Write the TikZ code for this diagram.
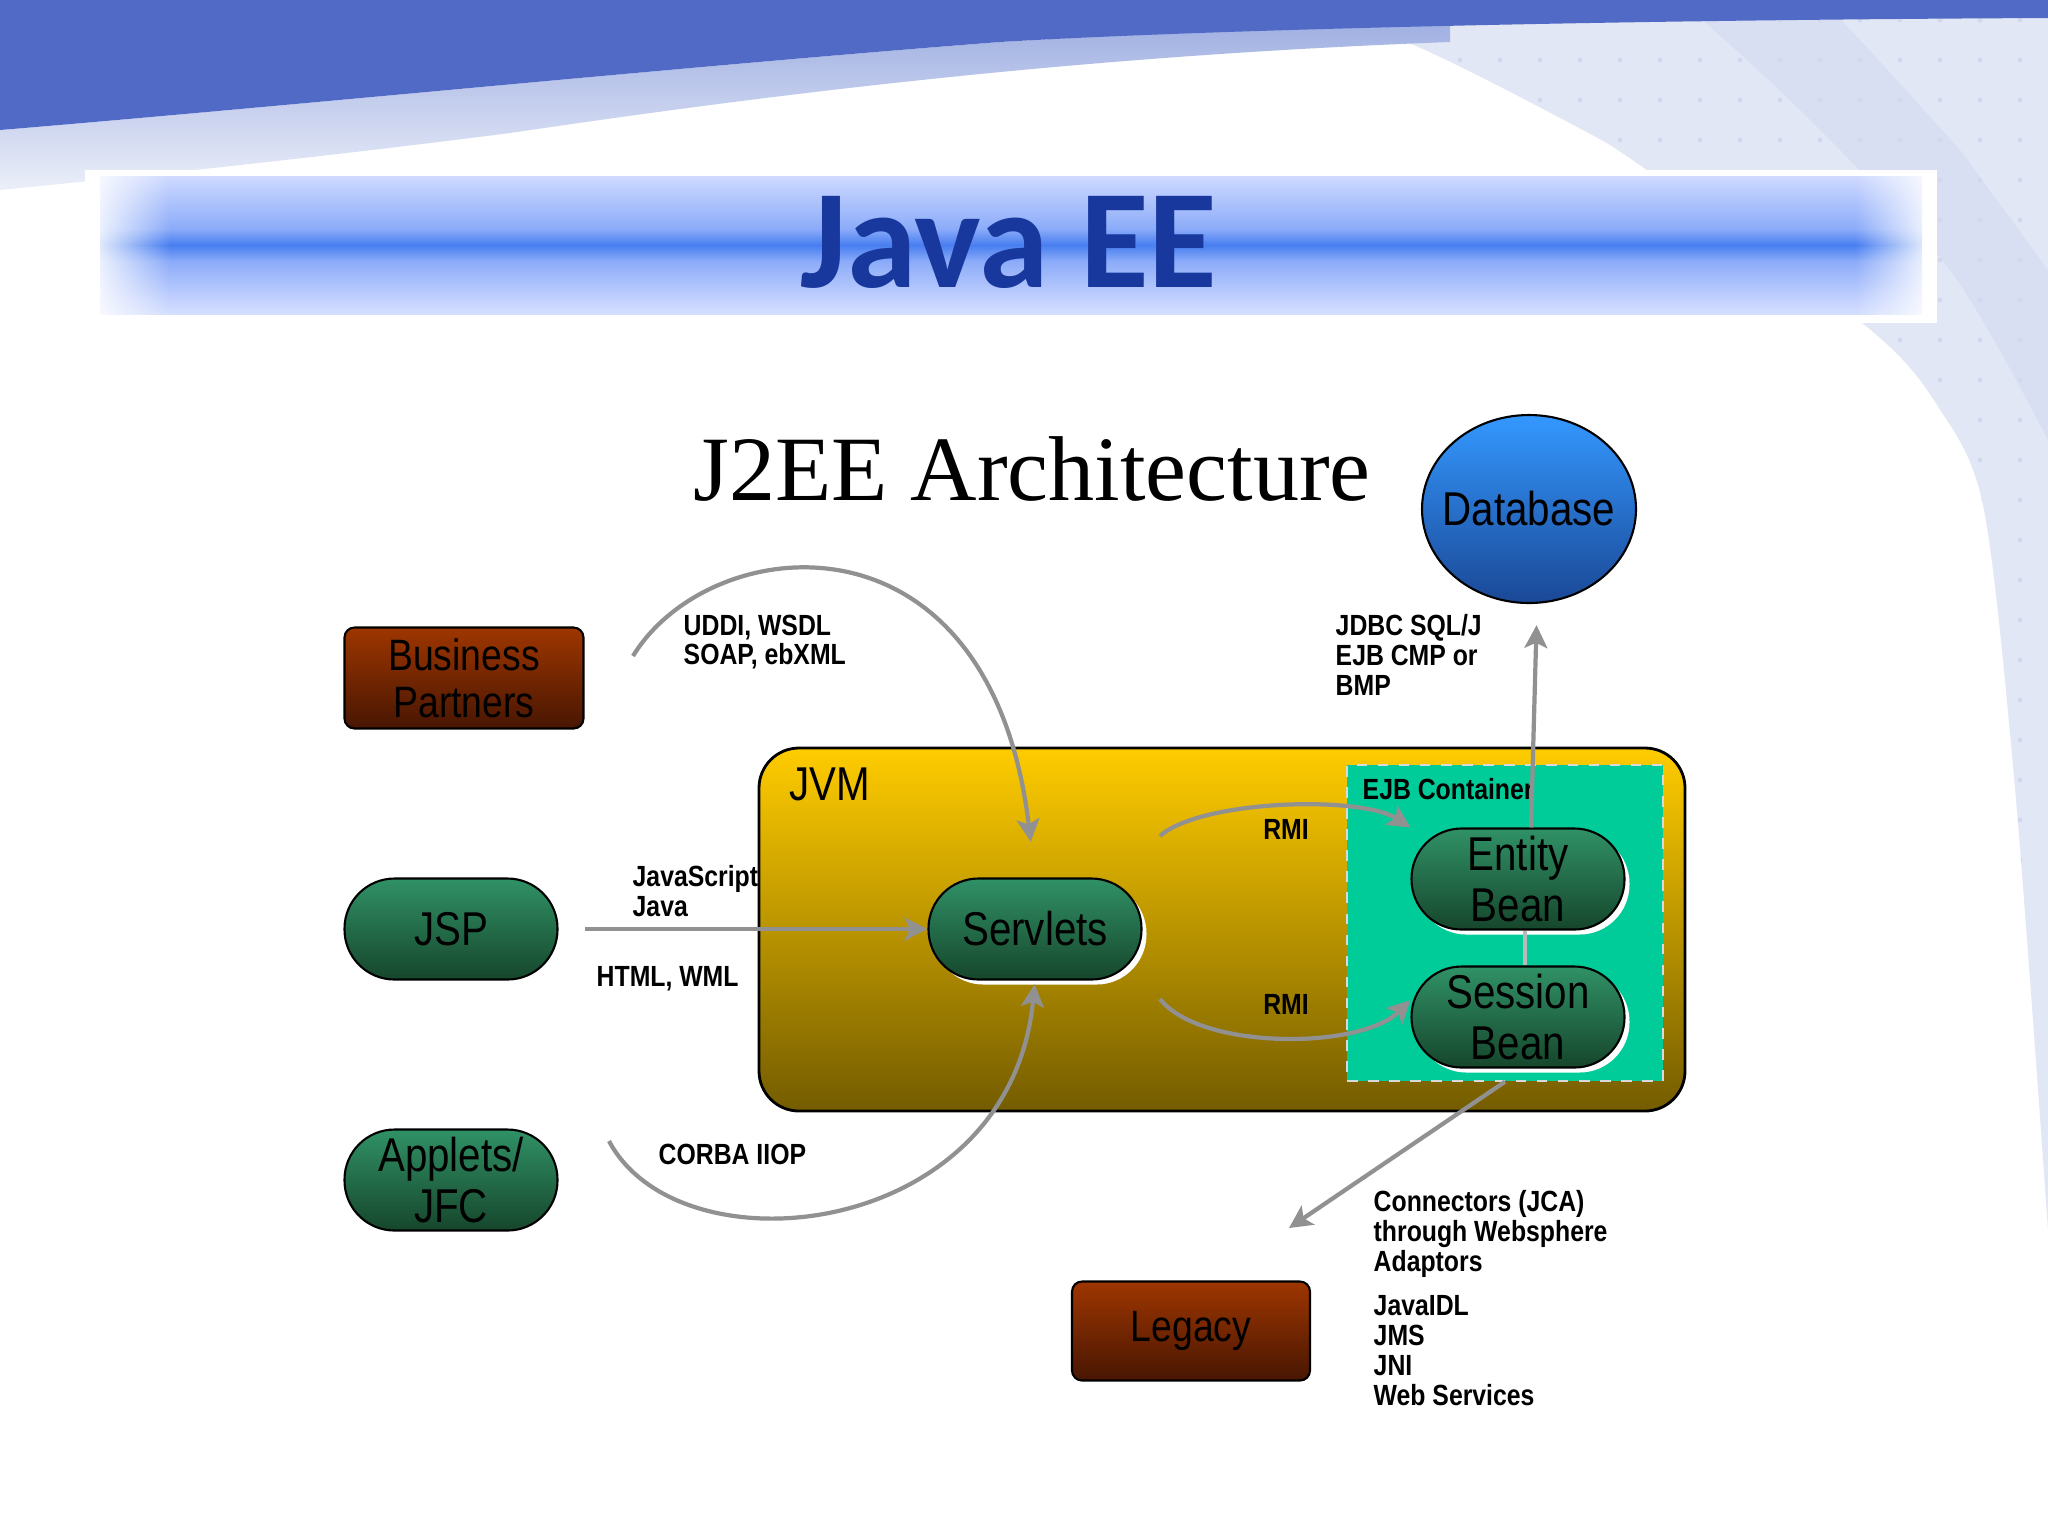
\documentclass[tikz,border=0pt]{standalone}
\usepackage{fontspec}
\setmainfont{Liberation Serif}
\newfontfamily\boxfont[FakeStretch=0.85]{Liberation Sans}
\newfontfamily\titlefont{Carlito}
\usetikzlibrary{arrows.meta,shapes.geometric,shadows,fadings}

\definecolor{slideblue}{RGB}{80,106,198}
\definecolor{bandlav}{RGB}{160,176,226}
\definecolor{patgrey}{RGB}{226,231,245}
\definecolor{patdot}{RGB}{210,217,239}
\definecolor{patstripe}{RGB}{216,223,243}
\definecolor{titleblue}{RGB}{24,56,158}
\definecolor{barblue}{RGB}{72,126,240}
\definecolor{barmid}{RGB}{140,172,249}
\definecolor{barlight}{RGB}{196,210,254}
\definecolor{pilltop}{RGB}{48,145,102}
\definecolor{pillbot}{RGB}{22,70,44}
\definecolor{browntop}{RGB}{158,54,0}
\definecolor{brownbot}{RGB}{72,22,2}
\definecolor{jvmtop}{RGB}{255,204,0}
\definecolor{jvmbot}{RGB}{116,92,0}
\definecolor{ejbgreen}{RGB}{0,204,153}
\definecolor{dbtop}{RGB}{52,152,255}
\definecolor{dbbot}{RGB}{26,72,150}
\definecolor{arrowgrey}{RGB}{145,145,145}

\pgfdeclareverticalshading{titlebar}{100bp}{color(0bp)=(white); color(12bp)=(white);
  color(30bp)=(barlight); color(44bp)=(barmid); color(50bp)=(barblue);
  color(56bp)=(barmid); color(72bp)=(barlight); color(88bp)=(white); color(100bp)=(white)}
\tikzfading[name=fade l2r, left color=transparent!0, right color=transparent!100]
\tikzfading[name=fade r2l, left color=transparent!100, right color=transparent!0]

\begin{document}
\begin{tikzpicture}[x=0.1mm, y=-0.1mm,
    pill/.style={draw=black, line width=0.6pt, top color=pilltop, bottom color=pillbot,
      rounded corners=5mm, minimum width=21.3mm, minimum height=10.1mm, inner sep=0pt,
      align=center, font=\boxfont\fontsize{13.5}{14.5}\selectfont,
      drop shadow={shadow xshift=0.5mm, shadow yshift=-0.5mm, fill=white, opacity=1}},
    brownbox/.style={draw=black, line width=0.6pt, top color=browntop, bottom color=brownbot,
      rounded corners=1mm, minimum width=23.9mm, minimum height=10.1mm, inner sep=0pt,
      align=center, font=\boxfont\fontsize{12.5}{13.4}\selectfont},
    dbnode/.style={ellipse, draw=black, line width=0.6pt, top color=dbtop, bottom color=dbbot,
      minimum width=21.4mm, minimum height=18.8mm, inner sep=0pt},
    lbl/.style={anchor=north west, inner sep=0pt, align=left,
      font=\boxfont\bfseries\fontsize{8.3}{8.5}\selectfont},
    flow/.style={draw=arrowgrey, line width=1.2pt, -{Stealth[length=6.5pt, width=6.5pt, inset=1.5pt]}}]
  \useasboundingbox (0,0) rectangle (2048,1536);
  \fill[white] (0,0) rectangle (2048,1536);

  % slide background
  \fill[patgrey] plot[smooth] coordinates {(2048,1230) (2016,800) (1984,510) (1939,408) (1867,327) (1644,168) (1579,128) (1416,46) (1280,0)} -- (2048,0) -- cycle;
  \begin{scope}
    \clip plot[smooth] coordinates {(2048,1230) (2016,800) (1984,510) (1939,408) (1867,327) (1644,168) (1579,128) (1416,46) (1280,0)} -- (2048,0) -- cycle;
    \fill[patstripe] plot[smooth] coordinates {(1680,0) (1800,110) (1950,270) (2048,440)} -- (2048,270) -- plot[smooth] coordinates {(1960,150) (1860,40) (1820,0)} -- cycle;
    \foreach \x in {1300,1340,...,2040}
      \foreach \y in {20,60,...,1220}
        \fill[patdot] (\x,\y) circle (0.25mm);
  \end{scope}
  \shade[top color=bandlav, bottom color=white!80!bandlav] (0,130) .. controls (300,105) and (700,65) .. (1000,42) .. controls (1200,30) and (1350,26) .. (1450,24) -- (1450,42) .. controls (1100,55) and (800,90) .. (510,133) .. controls (300,160) and (100,180) .. (0,190) -- cycle;
  \fill[slideblue] (0,0) -- (2048,0) -- (2048,18) .. controls (1600,20) and (1200,30) .. (1000,42) .. controls (700,65) and (300,105) .. (0,130) -- cycle;

  % title band
  \fill[white] (85,170) rectangle (1937,323);
  \shade[shading=titlebar] (100,176) rectangle (1922,314);
  \fill[white, path fading=fade l2r] (85,170) rectangle (170,323);
  \fill[white, path fading=fade r2l] (1855,170) rectangle (1937,323);
  \node[font=\titlefont\bfseries\fontsize{40}{44}\selectfont, text=titleblue, anchor=base] (title) at (1009,287) {Java EE};
  \node[font=\fontsize{26.2}{30}\selectfont, anchor=base] (j2ee) at (1032,500) {J2EE Architecture};

  % containers
  \shade[draw=black, line width=0.8pt, top color=jvmtop, bottom color=jvmbot, rounded corners=4mm] (759,748) rectangle (1685,1111);
  \node[anchor=north west, inner sep=0pt, font=\boxfont\fontsize{13.5}{14.5}\selectfont] (jvm) at (789,767) {JVM};
  \node[draw=white!70!gray, dashed, fill=ejbgreen, minimum width=31.6mm, minimum height=31.6mm, inner sep=0pt] (ejb) at (1505,923) {};
  \node[lbl] (ejblabel) at (1362,778) {EJB Container};

  % components
  \node[brownbox] (partners) at (464,678) {Business\\Partners};
  \node[pill] (jsp) at (451,929) {JSP};
  \node[pill] (applets) at (451,1180) {Applets/\\JFC};
  \node[pill] (servlets) at (1035,929) {Servlets};
  \node[pill] (entity) at (1518,879) {Entity\\Bean};
  \node[pill] (session) at (1518,1017) {Session\\Bean};
  \node[dbnode] (db) at (1529,509) {};
  \node[font=\boxfont\fontsize{13.5}{14.5}\selectfont] (dblabel) at (db.center) {Database};
  \node[brownbox, minimum width=23.8mm, minimum height=9.9mm] (legacy) at (1191,1331) {Legacy};

  % connectors
  \coordinate (uddi start) at (633,656);
  \coordinate (corba start) at (609,1141);
  \coordinate (rmi top) at (1160,836);
  \coordinate (rmi bot) at (1160,999);
  \coordinate (legacy in) at (1289,1228);
  \draw[flow, shorten >=10.2pt] (uddi start) .. controls (710,530) and (990,500) .. (servlets.north);
  \draw[flow, shorten >=1pt] (corba start) .. controls (680,1275) and (1010,1240) .. (servlets.south);
  \draw[flow, shorten <=7.4pt] (jsp.east) -- (servlets.west);
  \draw[flow] (rmi top) .. controls (1200,800) and (1360,795) .. (entity.north west);
  \draw[flow] (rmi bot) .. controls (1200,1050) and (1360,1050) .. ([yshift=4.8pt]session.west);
  \draw[flow, shorten >=6pt] ([xshift=3.7pt]entity.north) -- ([xshift=2.3pt]db.south);
  \draw[draw=gray!55, line width=1.2pt] ([xshift=2pt]entity.south) -- ([xshift=2pt]session.north);
  \draw[flow] (ejb.south) -- (legacy in);

  % labels
  \node[lbl] (uddi) at (683,614) {UDDI, WSDL\\SOAP, ebXML};
  \node[lbl] (script) at (632,865) {JavaScript\\Java};
  \node[lbl] (html) at (596,966) {HTML, WML};
  \node[lbl] (corba) at (658,1143) {CORBA IIOP};
  \node[lbl] (jdbc) at (1335,614) {JDBC SQL/J\\EJB CMP or\\BMP};
  \node[lbl, anchor=center] (rmi1) at (1286,829) {RMI};
  \node[lbl, anchor=center] (rmi2) at (1286,1004) {RMI};
  \node[lbl] (jca) at (1373,1190) {Connectors (JCA)\\through Websphere\\Adaptors};
  \node[lbl] (apis) at (1373,1295) {JavaIDL\\JMS\\JNI\\Web Services};
\end{tikzpicture}
\end{document}
